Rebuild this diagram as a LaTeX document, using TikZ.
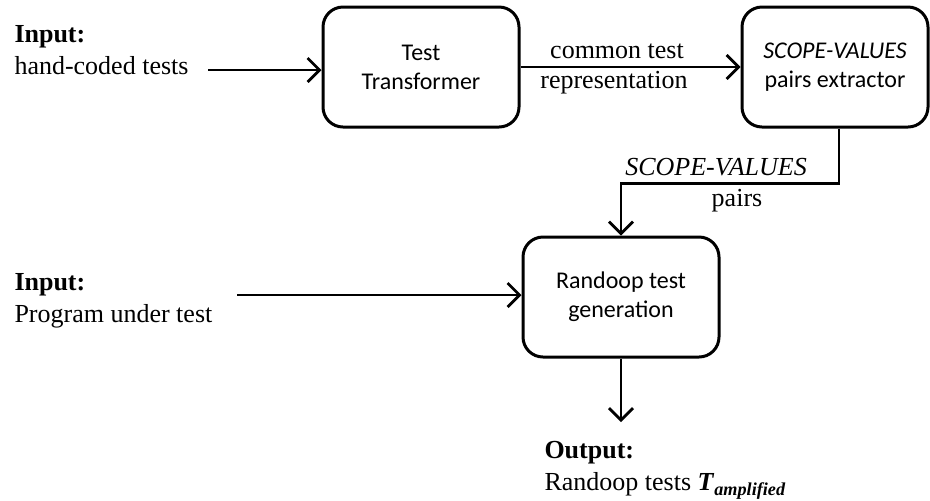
\documentclass[tikz,border=0pt]{standalone}
\usepackage{fontspec}
\setmainfont{Liberation Serif}
\newfontfamily\boxfont{Carlito}
\usetikzlibrary{
  arrows.meta,
}

\begin{document}
\begin{tikzpicture}[
    x=0.5pt, y=-0.5pt,
    line width=1.5pt,
    box/.style={
        rectangle, rounded corners=10pt,
        minimum height=60pt, minimum width=98pt,
        draw=black, align=center, inner sep=0pt,
        font=\boxfont\fontsize{12}{14.5}\selectfont,
      },
    txt/.style={
        align=left, inner sep=0pt, anchor=north west,
        font=\fontsize{13}{16}\selectfont,
      },
    lbl/.style={
        inner sep=0pt, anchor=base,
        font=\fontsize{13}{16}\selectfont,
      },
    arr/.style={
        black, line width=1.4pt, -{Straight Barb[length=6pt,width=12pt]},
      }
  ]
  \useasboundingbox (0,0) rectangle (930,500);

  \node[box] (tt) at (421,67) {Test\\Transformer};
  \node[box, minimum width=93pt] (sv) at (835,67) {\textit{SCOPE-VALUES}\\pairs extractor};
  \node[box] (rg) at (621,297) {Randoop test\\generation};

  \node[txt] (in1) at (13,24) {\textbf{Input:}\\hand-coded tests};
  \node[txt] (in2) at (13,272) {\textbf{Input:}\\Program under test};
  \node[txt] (out) at (543,440) {\textbf{Output:}\\Randoop tests
    \textbf{\textit{T}}\textsubscript{\textbf{\textit{amplified}}}};

  \node[lbl] (ct) at (617,58) {common test};
  \node[lbl] (rp) at (614,88) {representation};
  \node[lbl] (svl) at (716,175) {\textit{SCOPE-VALUES}};
  \node[lbl] (pl) at (737,206) {pairs};

  \coordinate (s1) at (208,70);
  \coordinate (s2) at (237,295);
  \coordinate (e3) at (621,422);

  \draw[arr] (s1) -- (s1 -| tt.west);
  \draw[arr] (tt.east) -- (sv.west);
  \draw[arr] ([xshift=2pt]sv.south) -- ++(0,55) -| (rg.north);
  \draw[arr] (s2) -- (s2 -| rg.west);
  \draw[arr] (rg.south) -- (e3);
\end{tikzpicture}
\end{document}
